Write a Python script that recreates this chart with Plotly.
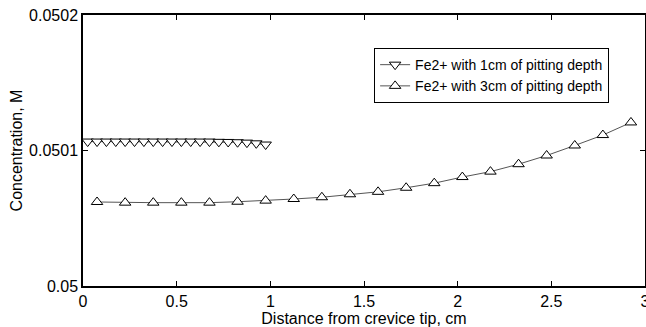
import plotly.graph_objects as go

# Data
x_1cm = [0.025, 0.075, 0.125, 0.175, 0.225, 0.275, 0.325, 0.375, 0.425, 0.475,
         0.525, 0.575, 0.625, 0.675, 0.725, 0.775, 0.825, 0.875, 0.925, 0.975]
y_1cm = [0.0501066, 0.0501066, 0.0501066, 0.0501066, 0.0501066, 0.0501066, 0.0501066,
         0.0501066, 0.0501066, 0.0501066, 0.0501066, 0.0501066, 0.0501066, 0.0501066,
         0.0501064, 0.0501063, 0.0501061, 0.0501058, 0.0501053, 0.0501044]

x_3cm = [0.075, 0.225, 0.375, 0.525, 0.675, 0.825, 0.975, 1.125, 1.275, 1.425,
         1.575, 1.725, 1.875, 2.025, 2.175, 2.325, 2.475, 2.625, 2.775, 2.925]
y_3cm = [0.0500620, 0.0500615, 0.0500615, 0.0500615, 0.0500615, 0.0500622, 0.0500630,
         0.0500642, 0.0500655, 0.0500677, 0.0500695, 0.0500725, 0.0500759, 0.0500804,
         0.0500844, 0.0500899, 0.0500963, 0.0501037, 0.0501114, 0.0501207]

series_names = ["Fe2+ with 1cm of pitting depth", "Fe2+ with 3cm of pitting depth"]

x_tickvals = [0, 0.5, 1, 1.5, 2, 2.5, 3]
x_ticktext = ["0", "0.5", "1", "1.5", "2", "2.5", "3"]
y_tickvals = [0.05, 0.0501, 0.0502]
y_ticktext = ["0.05", "0.0501", "0.0502"]

x_title = "Distance from crevice tip, cm"
y_title = "Concentration, M"

FONT = "Liberation Sans, Arial, sans-serif"
FS = 16

fig = go.Figure()
fig.add_trace(go.Scatter(
    x=x_1cm, y=y_1cm, name=series_names[0], mode="lines+markers",
    line=dict(color="#555555", width=1),
    marker=dict(symbol="triangle-down", size=10, color="white",
                line=dict(color="black", width=1)),
))
fig.add_trace(go.Scatter(
    x=x_3cm, y=y_3cm, name=series_names[1], mode="lines+markers",
    line=dict(color="#555555", width=1),
    marker=dict(symbol="triangle-up", size=10, color="white",
                line=dict(color="black", width=1)),
))

axis_common = dict(
    showline=True, linecolor="black", linewidth=1.5, mirror="ticks",
    ticks="inside", ticklen=5, tickcolor="black", tickwidth=1,
    showgrid=False, zeroline=False, ticklabeloverflow="allow",
    tickfont=dict(family=FONT, size=FS, color="black"),
)

fig.update_xaxes(range=[0, 3], tickvals=x_tickvals, ticktext=x_ticktext,
                 title=dict(text=x_title, font=dict(family=FONT, size=FS, color="black"),
                            standoff=0),
                 **axis_common)
fig.update_yaxes(range=[0.05, 0.0502], tickvals=y_tickvals, ticktext=y_ticktext,
                 title=dict(text=y_title, font=dict(family=FONT, size=FS, color="black"),
                            standoff=3),
                 **axis_common)

fig.update_layout(
    width=646, height=327,
    margin=dict(l=83, r=1, t=15, b=41, autoexpand=False),
    paper_bgcolor="white", plot_bgcolor="white",
    font=dict(family=FONT, size=FS, color="black"),
    showlegend=True,
    legend=dict(x=0.518, y=0.878, xanchor="left", yanchor="top",
                bgcolor="white", bordercolor="black", borderwidth=1,
                font=dict(family=FONT, size=14, color="black"),
                tracegroupgap=0, itemwidth=30),
)

fig.write_html("out.html", config={"displayModeBar": False},
               post_script="document.body.style.margin='0';document.body.style.overflow='hidden';")
